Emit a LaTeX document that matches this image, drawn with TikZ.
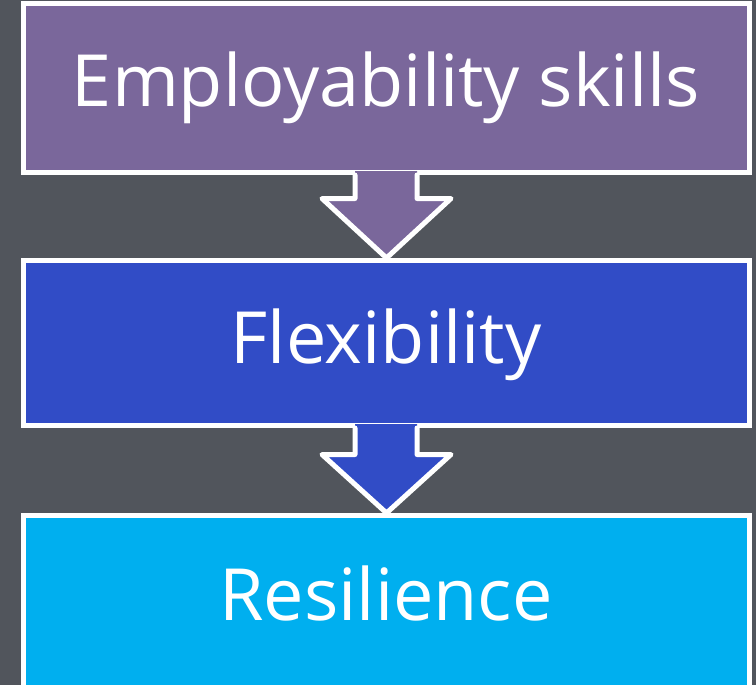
\documentclass[tikz,border=0pt]{standalone}
\usepackage{fontspec}
\setmainfont{Open Sans}
\usetikzlibrary{calc}
\definecolor{bgc}{HTML}{51555C}
\definecolor{purp}{HTML}{7A679B}
\definecolor{blu}{HTML}{314CC6}
\definecolor{cyan2}{HTML}{00AFEF}
\tikzset{
  box/.style={draw=white, line width=5bp, rectangle, minimum width=726bp, inner sep=0pt},
  lbl/.style={text=white, font=\fontsize{72bp}{80bp}\selectfont, anchor=base, inner sep=0pt},
  arrstroke/.style={draw=white, line width=5bp, line join=round, line cap=round}
}
\begin{document}
\begin{tikzpicture}[x=1bp,y=-1bp]
\fill[bgc] (0,0) rectangle (756,685);
\useasboundingbox (0,0) rectangle (756,685);
\node[box, fill=purp, minimum height=169bp] (b1) at (386.5,88) {};
\node[box, fill=blu, minimum height=165bp] (b2) at (386.5,343) {};
\node[box, fill=cyan2, minimum height=172bp] (b3) at (386.5,601.5) {};
% arrow 1
\fill[purp] ($(b1.south)+(-31.5,-4)$) -- ($(b1.south)+(-31.5,23.5)$) -- ($(b1.south)+(-64.5,23.5)$) -- (b2.north) -- ($(b1.south)+(64.5,23.5)$) -- ($(b1.south)+(30.5,23.5)$) -- ($(b1.south)+(30.5,-4)$) -- cycle;
\draw[arrstroke] ($(b1.south)+(-31.5,0)$) -- ($(b1.south)+(-31.5,23.5)$) -- ($(b1.south)+(-64.5,23.5)$) -- (b2.north) -- ($(b1.south)+(64.5,23.5)$) -- ($(b1.south)+(30.5,23.5)$) -- ($(b1.south)+(30.5,0)$);
% arrow 2
\fill[blu] ($(b2.south)+(-31.5,-4)$) -- ($(b2.south)+(-31.5,26.5)$) -- ($(b2.south)+(-64.5,26.5)$) -- (b3.north) -- ($(b2.south)+(64.5,26.5)$) -- ($(b2.south)+(30.5,26.5)$) -- ($(b2.south)+(30.5,-4)$) -- cycle;
\draw[arrstroke] ($(b2.south)+(-31.5,0)$) -- ($(b2.south)+(-31.5,26.5)$) -- ($(b2.south)+(-64.5,26.5)$) -- (b3.north) -- ($(b2.south)+(64.5,26.5)$) -- ($(b2.south)+(30.5,26.5)$) -- ($(b2.south)+(30.5,0)$);
\node[lbl] (t1) at (386,107) {Employability skills};
\node[lbl] (t2) at (386,363) {Flexibility};
\node[lbl] (t3) at (386,620) {Resilience};
\end{tikzpicture}
\end{document}
